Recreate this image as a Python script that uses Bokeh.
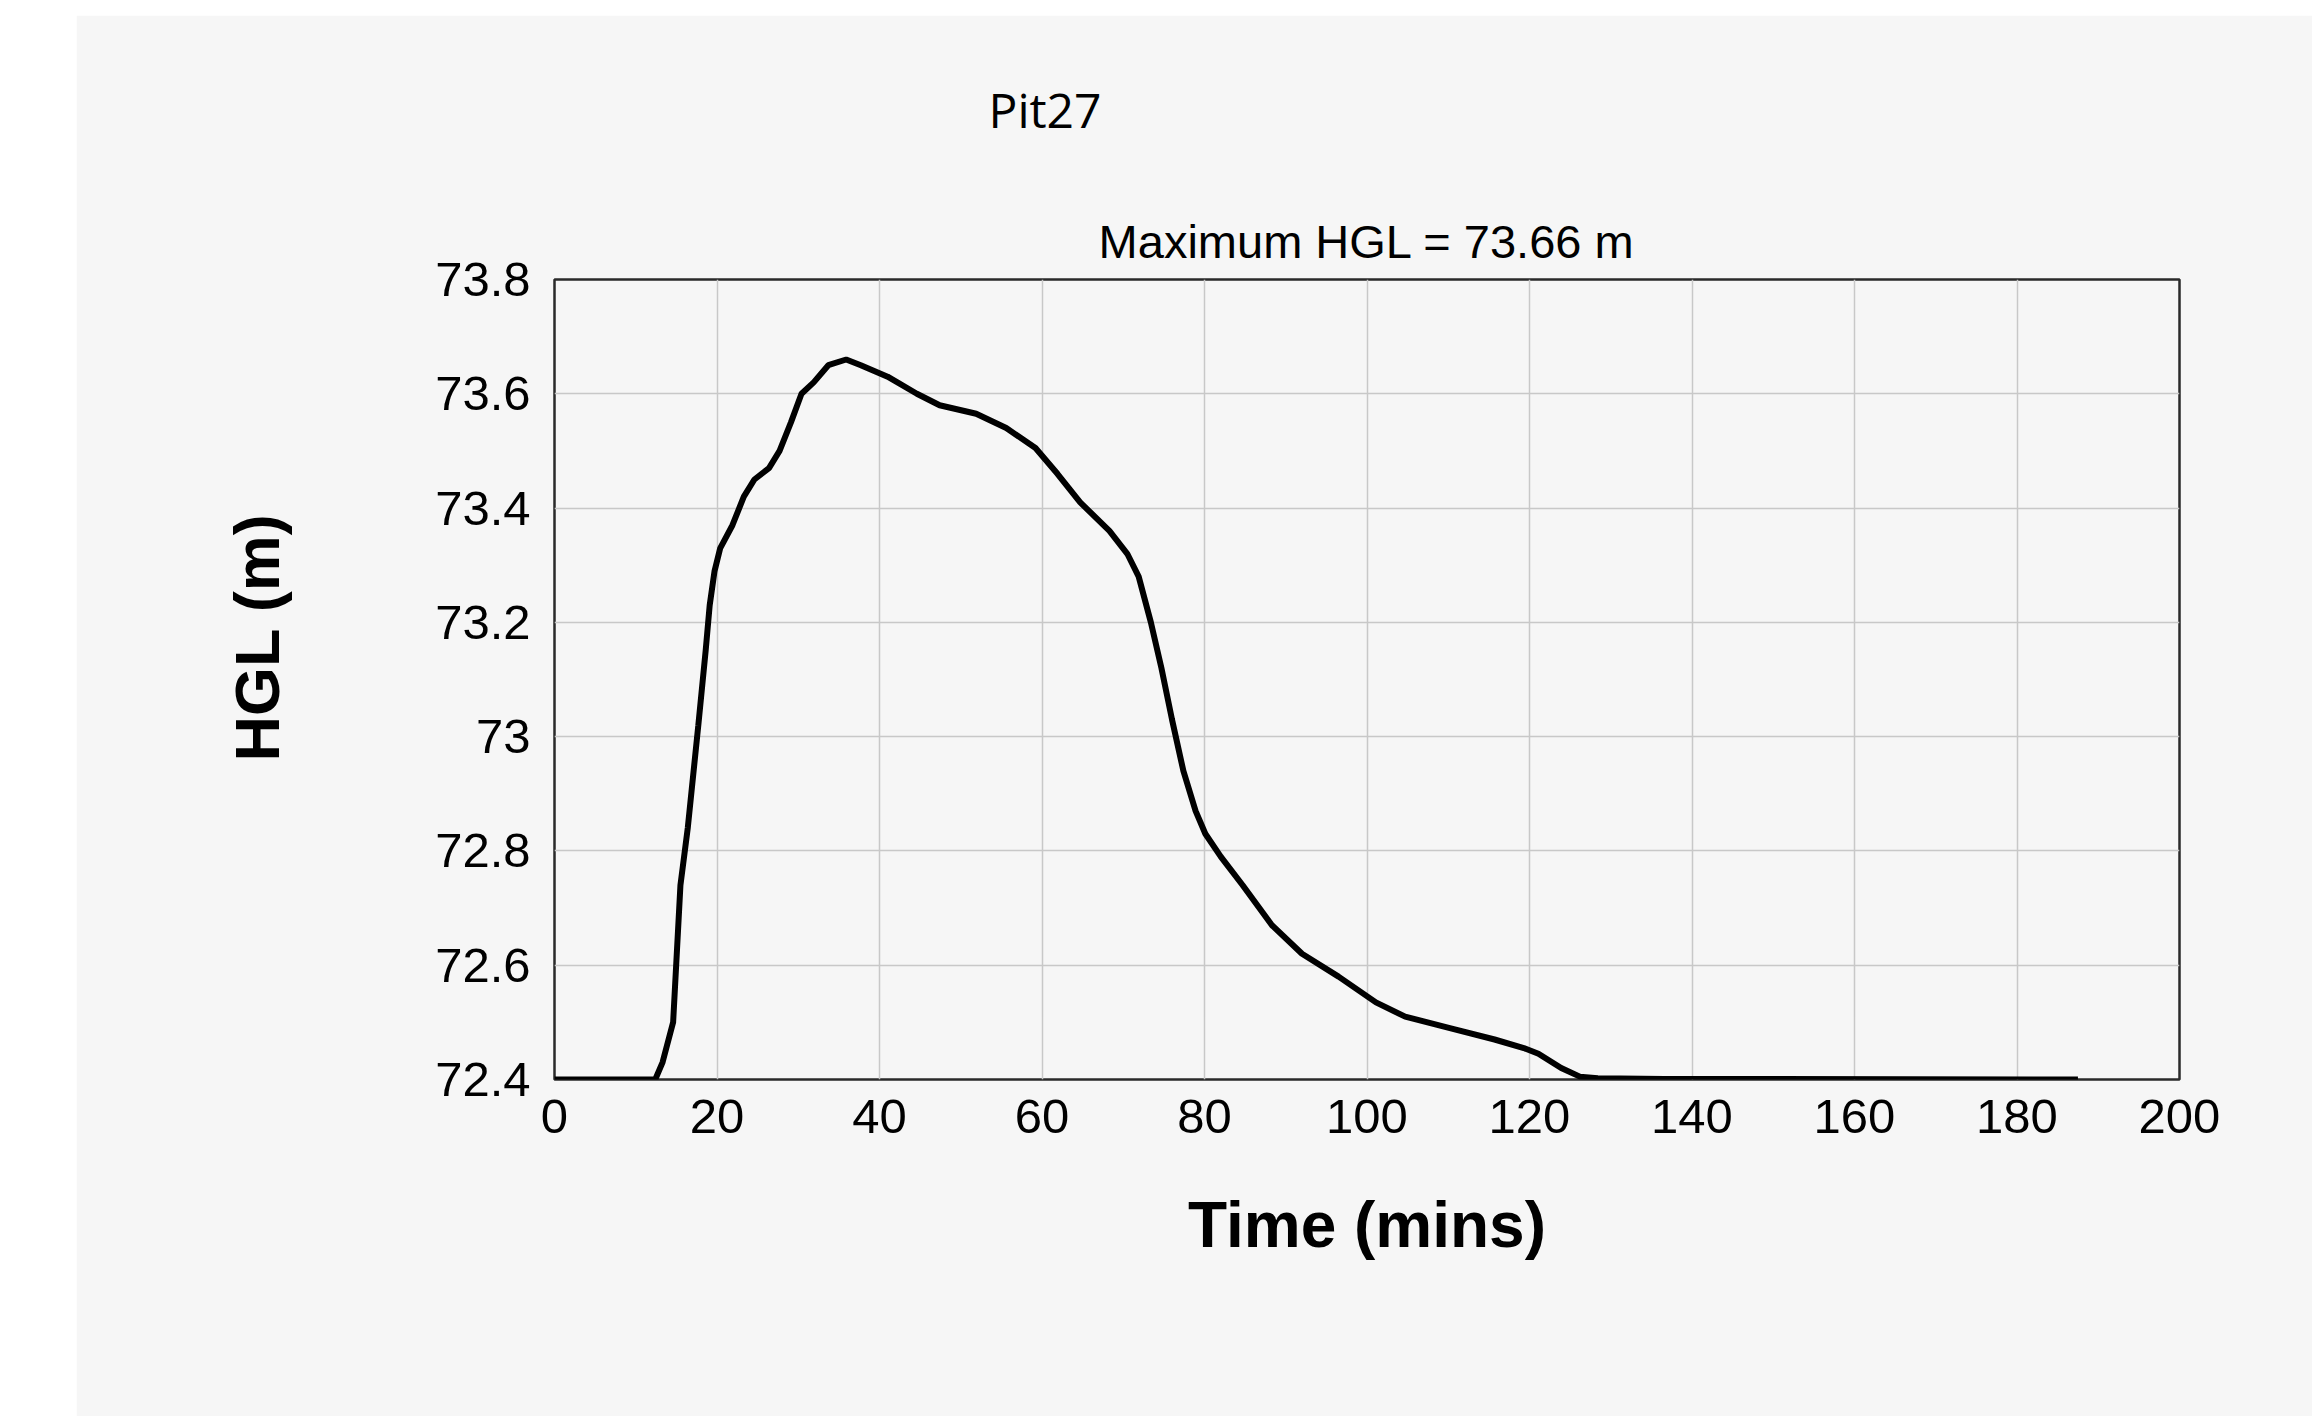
from bokeh.plotting import figure
from bokeh.models import FixedTicker, Spacer, Title
from bokeh.layouts import column, row
from bokeh.embed import file_html
from bokeh.resources import INLINE

# ---- data ----
time_min = [0, 12.4, 13.3, 14.6, 15.5, 16.4, 17.7, 18.6, 19.1, 19.7, 20.4, 21.9, 23.3, 24.6,
            26.4, 27.7, 29.1, 30.4, 31.9, 33.7, 35.9, 37.7, 41.0, 44.6, 47.4, 51.9, 55.6,
            59.2, 61.9, 64.7, 68.3, 70.5, 71.9, 73.4, 74.7, 76.0, 77.4, 78.9, 80.1, 82.0,
            84.7, 88.3, 92.0, 96.5, 101.1, 104.7, 110.2, 115.7, 119.3, 121.1, 123.9, 126.2,
            128.4, 136.6, 187.5]
hgl_m = [72.40, 72.40, 72.43, 72.50, 72.74, 72.84, 73.02, 73.15, 73.23, 73.29, 73.33, 73.37,
         73.42, 73.45, 73.47, 73.50, 73.55, 73.60, 73.62, 73.65, 73.66, 73.65, 73.63, 73.60,
         73.58, 73.565, 73.54, 73.505, 73.46, 73.41, 73.36, 73.32, 73.28, 73.20, 73.12,
         73.03, 72.94, 72.87, 72.83, 72.79, 72.74, 72.67, 72.62, 72.58, 72.535, 72.51,
         72.49, 72.47, 72.455, 72.445, 72.42, 72.405, 72.402, 72.401, 72.40]

x_ticks = [0, 20, 40, 60, 80, 100, 120, 140, 160, 180, 200]
y_ticks = [72.4, 72.6, 72.8, 73.0, 73.2, 73.4, 73.6, 73.8]
y_tick_labels = ["72.4", "72.6", "72.8", "73", "73.2", "73.4", "73.6", "73.8"]

title_text = "Maximum HGL = 73.66 m"
header_text = "Pit27"
x_label = "Time (mins)"
y_label = "HGL (m)"

BG = "#f6f6f6"
FONT = "Liberation Sans"

p = figure(width=2236, height=1401, x_range=(0, 200), y_range=(72.4, 73.8),
           output_backend="svg", toolbar_location=None,
           min_border_left=478, min_border_right=133, min_border_top=264, min_border_bottom=337)
p.background_fill_color = BG
p.border_fill_color = BG
p.outline_line_color = "#2a2a2a"
p.outline_line_width = 2.5

p.line(time_min, hgl_m, line_color="black", line_width=6)

for ax in (p.xaxis[0], p.yaxis[0]):
    ax.axis_line_color = None
    ax.major_tick_line_color = None
    ax.minor_tick_line_color = None
    ax.major_tick_out = 0
    ax.major_label_text_font = FONT
    ax.major_label_text_font_size = "49px"
    ax.major_label_text_color = "black"

p.xaxis.ticker = FixedTicker(ticks=x_ticks)
p.yaxis.ticker = FixedTicker(ticks=y_ticks)
p.yaxis.major_label_overrides = dict(zip(y_ticks, y_tick_labels))
p.xaxis.major_label_standoff = 20
p.yaxis.major_label_standoff = 24
p.xaxis.axis_label = x_label
p.xaxis.axis_label_text_font = FONT
p.xaxis.axis_label_text_font_style = "bold"
p.xaxis.axis_label_text_font_size = "64px"
p.xaxis.axis_label_text_color = "black"
p.xaxis.axis_label_standoff = 53

p.xgrid.grid_line_color = "#c8c8c8"
p.ygrid.grid_line_color = "#c8c8c8"
p.xgrid.grid_line_width = 1.5
p.ygrid.grid_line_width = 1.5

# outermost header ("Pit27")
p.title.text = header_text
p.title.align = "left"
p.title.offset = 434
p.title.standoff = 117
p.title.text_font = "Open Sans"
p.title.text_font_style = "normal"
p.title.text_font_size = "48px"
p.title.text_color = "black"

# chart caption just above the frame
p.add_layout(Title(text=title_text, align="center", standoff=24,
                   text_font=FONT, text_font_style="normal",
                   text_font_size="47px", text_color="black"), "above")

# vertical axis title
p.add_layout(Title(text=y_label, align="left", offset=318, standoff=282,
                   text_font=FONT, text_font_style="bold",
                   text_font_size="63px", text_color="black"), "left")

layout = column(Spacer(height=15), row(Spacer(width=76), p))

with open("out.html", "w") as f:
    f.write(file_html(layout, INLINE))
